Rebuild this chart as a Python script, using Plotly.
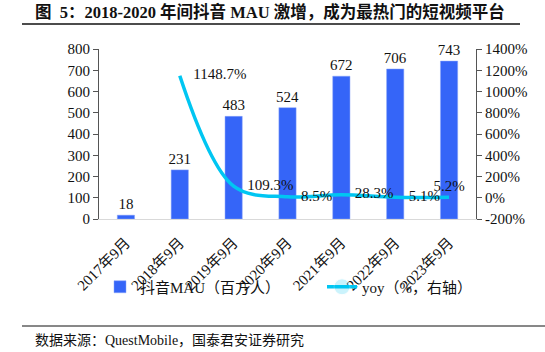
import plotly.graph_objects as go

categories = ["2017年9月", "2018年9月", "2019年9月", "2020年9月", "2021年9月", "2022年9月", "2023年9月"]
mau = [18, 231, 483, 524, 672, 706, 743]
yoy_cats = categories[1:]
yoy = [1148.7, 109.3, 8.5, 28.3, 5.1, 5.2]
left_ticks = list(range(0, 801, 100))
right_ticks = list(range(-200, 1401, 200))

FONT = "Liberation Serif, Times New Roman, Noto Sans CJK SC, serif"
BAR_COLOR = "#3565F8"
LINE_COLOR = "#00C6F2"

L, R, T, B = 99, 69, 49, 133
W, H = 545, 352
pw, ph = W - L - R, H - T - B

def px(x):
    return (x - L) / pw

def py(y):
    return (H - B - y) / ph

n = len(yoy)
label_pos = ["middle right"] * (n - 1) + ["top center"]
marker_sizes = [20] * (n - 1) + [2]

fig = go.Figure()
fig.add_trace(go.Bar(
    x=categories, y=mau, name="抖音MAU（百方人）", legend="legend",
    marker=dict(color=BAR_COLOR, line=dict(color="#8aa5f8", width=0.5)),
    width=0.32,
    text=[str(v) for v in mau], textposition="outside", constraintext="none",
    textfont=dict(family=FONT, size=15, color="#111"),
    cliponaxis=False,
))
fig.add_trace(go.Scatter(
    x=yoy_cats, y=yoy, name="yoy（%，右轴）", yaxis="y2", legend="legend2",
    mode="lines+markers+text",
    line=dict(color=LINE_COLOR, width=3.5, shape="spline", smoothing=1.0),
    marker=dict(size=marker_sizes, opacity=0, color=LINE_COLOR),
    text=[f"{v}%" for v in yoy], textposition=label_pos,
    textfont=dict(family=FONT, size=15, color="#111"),
    cliponaxis=False,
))

leg_common = dict(orientation="h", yanchor="middle", xanchor="left",
                  font=dict(family=FONT, size=15, color="#111"),
                  bgcolor="rgba(0,0,0,0)", itemwidth=30)

TICKFONT = dict(family=FONT, size=15, color="#111")

fig.update_layout(
    width=W, height=H,
    margin=dict(l=L, r=R, t=T, b=B),
    paper_bgcolor="white", plot_bgcolor="white",
    font=dict(family=FONT, size=15, color="#111"),
    showlegend=True,
    legend=dict(x=px(100), y=py(287), **leg_common),
    legend2=dict(x=px(322), y=py(287), **leg_common),
    xaxis=dict(
        tickangle=-45, showline=True, linecolor="#d9d9d9", linewidth=1,
        ticks="", showgrid=False, tickfont=TICKFONT, ticklabelstandoff=8,
    ),
    yaxis=dict(
        range=[0, 800], tickvals=left_ticks, showgrid=False, zeroline=False,
        showline=True, linecolor="#555", linewidth=1, ticks="outside", ticklen=5,
        tickcolor="#555", tickfont=TICKFONT,
    ),
    yaxis2=dict(
        range=[-200, 1400], tickvals=right_ticks, ticktext=[f"{v}%" for v in right_ticks],
        overlaying="y", side="right", showgrid=False, zeroline=False,
        showline=True, linecolor="#555", linewidth=1, ticks="outside", ticklen=5,
        tickcolor="#555", tickfont=TICKFONT,
    ),
    annotations=[
        dict(text="<b>图  5：2018-2020 年间抖音 MAU 激增，成为最热门的短视频平台</b>",
             xref="paper", yref="paper", x=px(33), y=py(12), xanchor="left", yanchor="middle",
             showarrow=False, font=dict(family=FONT, size=16.5, color="#111")),
        dict(text="数据来源：QuestMobile，国泰君安证券研究",
             xref="paper", yref="paper", x=px(33), y=py(340), xanchor="left", yanchor="middle",
             showarrow=False, font=dict(family=FONT, size=14, color="#111")),
    ],
    shapes=[
        dict(type="line", xref="paper", yref="paper", x0=px(22), x1=px(520), y0=py(24), y1=py(24),
             line=dict(color="#111", width=1.5)),
        dict(type="line", xref="paper", yref="paper", x0=px(22), x1=px(545), y0=py(326), y1=py(326),
             line=dict(color="#111", width=1)),
    ],
)

fig.write_html("out.html")
